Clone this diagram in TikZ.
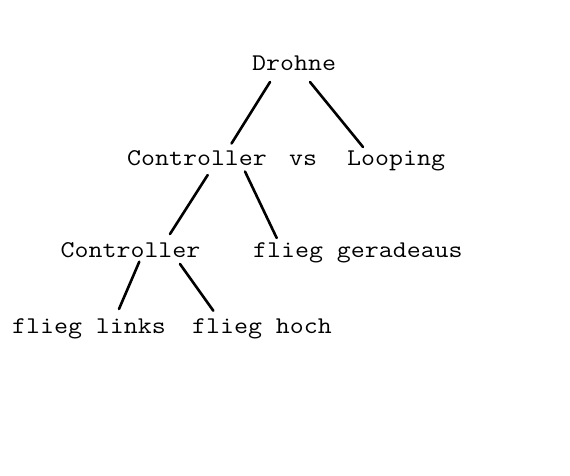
\documentclass[tikz,border=0pt]{standalone}
\usepackage{fontspec}
\newfontfamily\treefont[FakeStretch=1.13]{Latin Modern Mono}
\usepackage{tikz}
\usetikzlibrary{positioning}
\tikzset{
          word/.style={font=\treefont\fontsize{24}{24}\selectfont,
            inner sep=0pt,anchor=base west},
          branch/.style={line width=2.6pt,line cap=round}
        }
\newcommand\Branch[4]{%
          \draw[branch] ([shift={#2}]#1.base west)
          -- ([shift={#4}]#3.base west);
        }
\begin{document}
\begin{tikzpicture}[x=1pt,y=-1pt]
            \useasboundingbox (0,0) rectangle (570,475);

            \node[word] (drohne) at (252,70) {Drohne};
            \node[word] (ctrlA) at (127,165) {Controller};
            \node[word] (vs) at (289,165) {vs};
            \node[word] (looping) at (347,165) {Looping};
            \node[word] (ctrlB) at (60.5,257) {Controller};
            \node[word] (geradeaus) at (253,257) {flieg geradeaus};
            \node[word] (links) at (12,333) {flieg links};
            \node[word] (hoch) at (192,333) {flieg hoch};

            \Branch{drohne}{(18,12)}{ctrlA}{(104.5,-21.5)}
            \Branch{drohne}{(58,12)}{looping}{(16,-18)}
            \Branch{ctrlA}{(80.7,10)}{ctrlB}{(109.5,-23)}
            \Branch{ctrlA}{(118,6.5)}{geradeaus}{(23.7,-19)}
            \Branch{ctrlB}{(78.8,4.7)}{links}{(107,-24)}
            \Branch{ctrlB}{(119.5,7)}{hoch}{(21.3,-22.3)}

          \end{tikzpicture}
\end{document}
